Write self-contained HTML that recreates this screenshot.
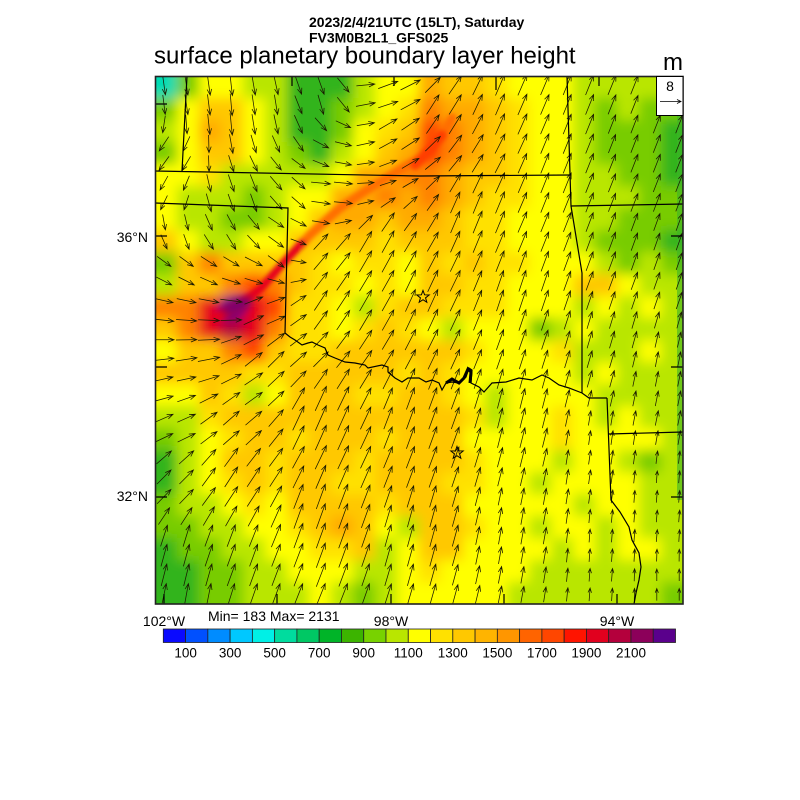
<!DOCTYPE html>
<html><head><meta charset="utf-8"><style>
html,body{margin:0;padding:0;background:#fff;}
svg{display:block;}
text{font-family:"Liberation Sans",Arial,sans-serif;fill:#000;}
</style></head><body>
<svg id="s" width="800" height="800" viewBox="0 0 800 800" xmlns="http://www.w3.org/2000/svg">
<defs>
<clipPath id="mc"><rect x="155" y="76" width="528" height="528"/></clipPath>
<filter id="bl" x="-10%" y="-10%" width="120%" height="120%"><feGaussianBlur stdDeviation="6"/></filter>
<filter id="bl2" x="-20%" y="-20%" width="140%" height="140%"><feGaussianBlur stdDeviation="2"/></filter>
<filter id="bl3" x="-30%" y="-30%" width="160%" height="160%"><feGaussianBlur stdDeviation="4"/></filter>
</defs>
<rect x="0" y="0" width="800" height="800" fill="#fff"/>
<text x="309" y="27" font-size="14" font-weight="bold">2023/2/4/21UTC (15LT), Saturday</text>
<text x="309" y="42.5" font-size="14" font-weight="bold">FV3M0B2L1_GFS025</text>
<text x="154" y="63.5" font-size="24">surface planetary boundary layer height</text>
<text x="683" y="70" font-size="24" text-anchor="end">m</text>

<g clip-path="url(#mc)">
  <g id="grid" filter="url(#bl)"></g>
  <g filter="url(#bl2)">
    <path d="M300,246 L310,235 L340,208 L370,188 L400,170 L425,155 L440,140 L452,118" fill="none" stroke="#ff6e00" stroke-width="9" stroke-linecap="round"/>
    <path d="M415,165 L430,150 L442,135" fill="none" stroke="#ff3c00" stroke-width="10" stroke-linecap="round"/>
    <path d="M215,318 L240,305 L262,287 L288,258 L302,243" fill="none" stroke="#e6001e" stroke-width="8" stroke-linecap="round"/>
  </g>
  <g filter="url(#bl3)">
    <ellipse cx="237" cy="306" rx="16" ry="7" transform="rotate(-25 237 306)" fill="#7a0070"/>
  </g>
  <rect x="677" y="100" width="8" height="400" fill="#3cb428" opacity="0.6"/>
  <path id="arr" fill="none" stroke="#1a1a00" stroke-width="0.75"/>
  <path fill="none" stroke="#000" stroke-width="1.2" d="M187,76 L182,171 M155,171 L419,176 L571,175 M155,203 L288,208 L285,333 M285,333 L290,337 L295,340 L302,345 L308,343 L312,342 L318,345 L325,348 L328,355 L335,358 L345,362 L355,363 L365,365 L368,368 L382,365 L388,367 L388,372 L395,378 L402,382 L408,378 L419,378 L426,382 L432,380 L439,383 L442,390 L446,383 L452,382 L459,383 L466,377 L469,368 L472,370 L471,383 L479,387 L484,392 L492,383 L506,382 L519,378 L532,380 L542,375 L549,378 L559,385 L569,388 L582,393 L589,398 L599,398 L607,398 M567,76 L571,206 L683,204 M571,206 L582,273 L582,393 M607,398 L611,500 L620,512 L629,527 L632,540 L639,553 L641,567 L639,580 L636,593 L634,604 M609,434 L683,432"/>
  <path fill="none" stroke="#000" stroke-width="3" d="M446,383 L452,379 L459,383 L464,378 L468,369 L471,372 L470,383"/>
  <path fill="none" stroke="#000" stroke-width="1.2" d="M155,104 h12 M155,236 h12 M155,367 h12 M155,497 h12 M683,236 h-12 M683,367 h-12 M683,497 h-12 M164,604 v-10 M277,604 v-10 M391,604 v-10 M504,604 v-10 M617,604 v-10 M292,76 v10 M394,76 v10 M496,76 v14 M599,76 v10"/>
  <polygon transform="translate(423,297)" fill="none" stroke="#000" stroke-width="1" points="0,-6.5 1.59,-2.18 6.18,-2.01 2.57,0.83 3.82,5.26 0,2.7 -3.82,5.26 -2.57,0.83 -6.18,-2.01 -1.59,-2.18"/>
  <polygon transform="translate(457,453)" fill="none" stroke="#000" stroke-width="1" points="0,-6.5 1.59,-2.18 6.18,-2.01 2.57,0.83 3.82,5.26 0,2.7 -3.82,5.26 -2.57,0.83 -6.18,-2.01 -1.59,-2.18"/>
</g>
<rect x="155.5" y="76.5" width="527.5" height="527.5" fill="none" stroke="#222" stroke-width="1.6"/>

<rect x="656.5" y="76.5" width="26.5" height="39" fill="#fff" stroke="#000" stroke-width="1"/>
<text x="670" y="91" font-size="14" text-anchor="middle">8</text>
<path d="M660,101.5 L681,101.5 M677,99.5 L681,101.5 L677,103.5" fill="none" stroke="#000" stroke-width="0.8"/>

<text x="148" y="242" font-size="14" text-anchor="end">36°N</text>
<text x="148" y="501" font-size="14" text-anchor="end">32°N</text>
<text x="164" y="626" font-size="14" text-anchor="middle">102°W</text>
<text x="391" y="626" font-size="14" text-anchor="middle">98°W</text>
<text x="617" y="626" font-size="14" text-anchor="middle">94°W</text>
<text x="208" y="621" font-size="14">Min= 183 Max= 2131</text>

<g id="cb"></g>
<g id="cbl" font-size="13.5" text-anchor="middle"></g>
</svg>
<script>
(function(){
var rows=[
"cgyyllGGGlyyoaadyyylllll",
"gyaaylGGglydOooadyylglgg",
"lyoaylGGgydarOoadyylgggG",
"gyaaylgGlyaorOoadyylgggG",
"yydlllllyooOOoaadyyllggG",
"ylllglyyooOoOoaddyylllgg",
"yllgglyaooaooaddyyyllggg",
"ayllyyaaaadaaaddyyylgggG",
"gaOaaaadyddyadaddyyylglg",
"laaOrOaddydyaaddyyyaayll",
"OORpRrddyldaadddyyylylyl",
"aORmROddydadylyyyglyllll",
"yaaOraddaaaaaadyyydlllyl",
"aaaaddaaaaadadyyyyylylll",
"yyadlyaaaddaadylyyyyllll",
"lldaaaaaaaaaaadlyydylyll",
"glydaadaaadaaayyyydyyyyl",
"Glyaadaaadaaaadyyylyylgl",
"Glydadaaddaaaddyylyyyyll",
"gllydyaaaadaaayyyyylyyll",
"ggllyydaoaylaadyylyylyll",
"Gggllyyddalyaayyyylylyyl",
"GGggllyyyllydyyyylllllll",
"GGgglllylglyyyyylllllllg"];
var col={c:'#00dcb4',G:'#32b41e',g:'#78cc00',l:'#b9e600',y:'#ffff00',d:'#ffe100',a:'#ffc800',o:'#ffaa00',O:'#ff8200',r:'#ff4600',R:'#e6001e',m:'#b4003c',p:'#6e0082'};
var h='';
for(var j=0;j<24;j++)for(var i=0;i<24;i++){
 var x=155+22*i,y=76+22*j,w=22,hh=22;
 if(i==0){x-=22;w+=22;} if(i==23){w+=22;} if(j==0){y-=22;hh+=22;} if(j==23){hh+=22;}
 h+='<rect x="'+x+'" y="'+y+'" width="'+(w+0.6)+'" height="'+(hh+0.6)+'" fill="'+(col[rows[j][i]]||'#ffc800')+'"/>';
}
document.getElementById('grid').innerHTML=h;

var cp=[
[190,100,3,20],[230,110,2,22],[270,110,3,20],[320,100,5,20],[340,100,12,15],[375,100,20,-5],[405,95,20,-10],
[360,140,18,-4],[330,140,16,8],[300,120,8,18],[400,130,18,-12],[440,110,12,-20],[500,100,9,-21],[580,100,8,-20],[650,130,7,-18],
[168,160,-10,14],[175,195,-8,14],[210,200,5,18],[250,200,6,18],[290,195,12,14],[320,210,18,4],[322,194,20,1],
[180,230,4,16],[220,235,8,16],[260,235,12,14],[280,230,16,10],
[175,270,14,10],[210,265,16,10],[250,270,18,8],[270,260,16,12],
[170,300,18,4],[200,300,20,4],[230,305,22,3],[260,300,18,-8],
[170,330,20,2],[200,330,22,0],[250,330,20,-10],
[170,350,20,-2],[200,360,22,-4],[170,380,18,-4],[230,370,20,-10],[270,360,16,-16],
[180,420,18,-8],[230,420,16,-14],[180,480,14,-14],[230,480,13,-20],[180,560,6,-22],[230,560,8,-22],[190,595,4,-22],
[320,420,11,-25],[320,520,9,-25],[330,300,13,-20],[380,250,12,-22],[330,250,14,-18],[370,300,12,-21],
[420,300,10,-22],[420,420,8,-22],[420,540,6,-22],[480,220,9,-22],
[520,300,7,-21],[520,420,5,-20],[520,540,3,-17],[600,250,7,-19],[600,350,5,-17],[600,450,2,-14],[600,560,1,-13],
[660,250,6,-17],[660,380,3,-15],[660,500,1,-12],[660,590,0,-12],[560,180,8,-20],[640,180,7,-18]];
function vec(x,y){var sx=0,sy=0,sw=0;for(var k=0;k<cp.length;k++){var p=cp[k];var d2=(x-p[0])*(x-p[0])+(y-p[1])*(y-p[1])+100;var w=1/(d2*d2);sx+=w*p[2];sy+=w*p[3];sw+=w;}return [sx/sw,sy/sw];}
var d='';
for(var j=0;j<27;j++)for(var i=0;i<24;i++){
 var cx=164+22.4*i, cy=85+19.6*j;
 if(cx>650&&cy<122)continue;
 var v=vec(cx,cy);var L=Math.sqrt(v[0]*v[0]+v[1]*v[1]);if(L<1)continue;
 var ux=v[0]/L,uy=v[1]/L;
 var tx=cx-v[0]/2,ty=cy-v[1]/2,hx=cx+v[0]/2,hy=cy+v[1]/2;
 var hl=Math.min(6,0.35*L),hw=hl*0.38;
 var bx=hx-ux*hl,by=hy-uy*hl;
 d+='M'+tx.toFixed(1)+','+ty.toFixed(1)+'L'+hx.toFixed(1)+','+hy.toFixed(1)+
   'M'+(bx-uy*hw).toFixed(1)+','+(by+ux*hw).toFixed(1)+'L'+hx.toFixed(1)+','+hy.toFixed(1)+'L'+(bx+uy*hw).toFixed(1)+','+(by-ux*hw).toFixed(1);
}
document.getElementById('arr').setAttribute('d',d);

var cbc=['#0a0aff','#0050ff','#008cff','#00c8ff','#00f0e6','#00dc9e','#00c864','#00b428','#3cb400','#78d200','#b9e600','#ffff00','#ffe100','#ffc800','#ffb400','#ff9600','#ff6400','#ff4600','#ff1400','#e1001e','#b4003c','#8c005a','#5a008c'];
var x0=163.3,bw=22.27,s='';
for(var k=0;k<23;k++){s+='<rect x="'+(x0+bw*k).toFixed(2)+'" y="629" width="'+bw+'" height="13.5" fill="'+cbc[k]+'" stroke="#222" stroke-width="0.8"/>';}
document.getElementById('cb').innerHTML=s;
var t='';
for(var k=1;k<=21;k+=2){t+='<text x="'+(x0+bw*k).toFixed(1)+'" y="657.5">'+(k*100)+'</text>';}
document.getElementById('cbl').innerHTML=t;
})();
</script>
</body></html>
